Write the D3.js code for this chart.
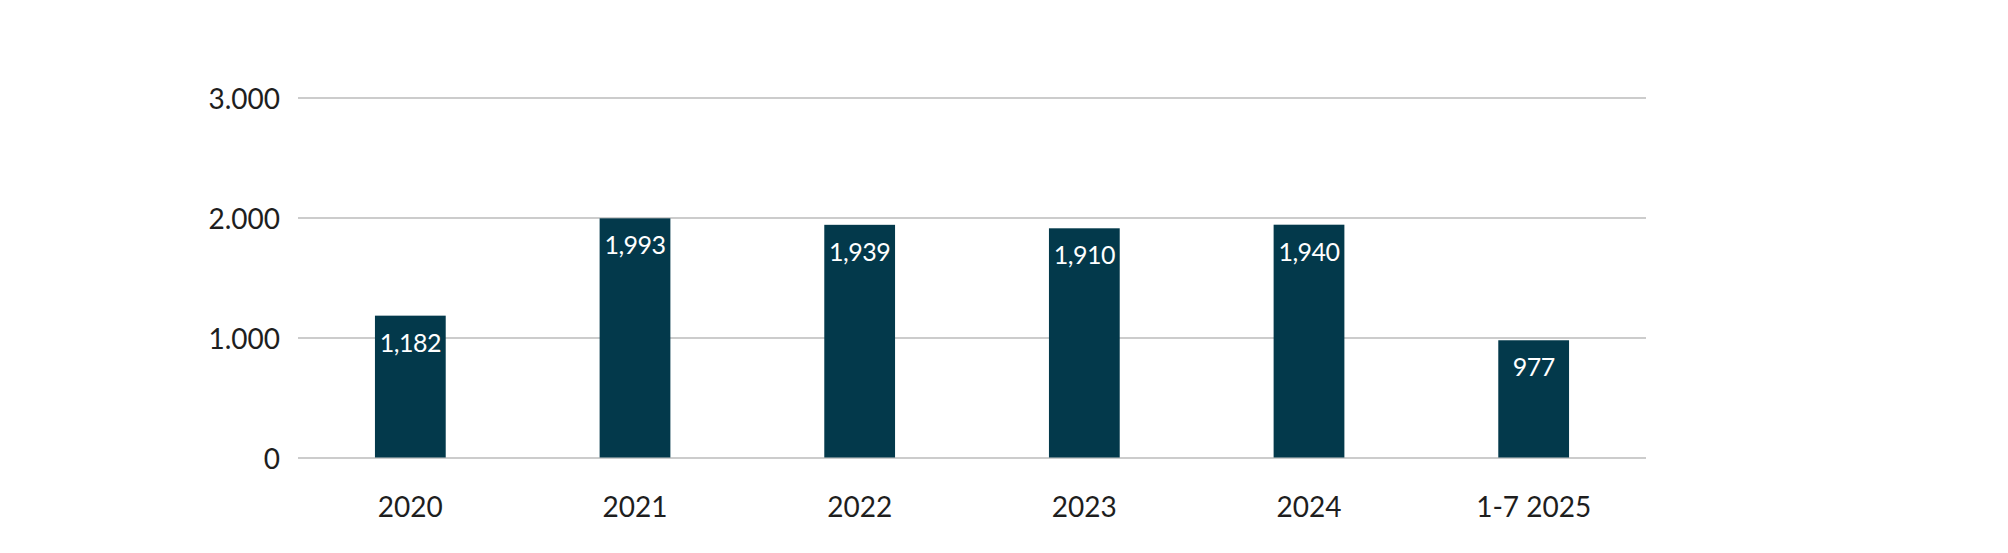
<!DOCTYPE html>
<html>
<head>
<meta charset="utf-8">
<script src="https://cdn.jsdelivr.net/npm/d3@7"></script>
<style>
  html, body { margin: 0; padding: 0; background: #ffffff; }
  svg { display: block; }
  .axis text { font-family: Lato, "Open Sans", sans-serif; fill: #1e1e1e; }
</style>
</head>
<body>
<svg id="chart" width="2008" height="553"></svg>
<script>
const categories = ["2020", "2021", "2022", "2023", "2024", "1-7 2025"];
const values = [1182, 1993, 1939, 1910, 1940, 977];
const yTicks = [0, 1000, 2000, 3000];
const yMax = 3000;

const svg = d3.select("#chart");
const margin = { left: 298, right: 2008 - 1646, top: 97.5, bottom: 553 - 457.5 };
const W = 2008 - margin.left - margin.right;
const H = 553 - margin.top - margin.bottom;

const g = svg.append("g").attr("transform", `translate(${margin.left},${margin.top})`);

const x = d3.scaleBand().domain(categories).range([0, W])
  .paddingInner(0.685).paddingOuter(0.685 / 2);
const y = d3.scaleLinear().domain([0, yMax]).range([H, 0]);

const euro = d3.formatLocale({ decimal: ",", thousands: ".", grouping: [3], currency: ["", ""] });
const yFmt = euro.format(",");
const labelFmt = d3.format(",");

// y axis with gridlines
const yAxis = g.append("g").attr("class", "axis")
  .call(d3.axisLeft(y).tickValues(yTicks).tickFormat(yFmt).tickSize(-W).tickPadding(18));
yAxis.select(".domain").remove();
yAxis.selectAll(".tick line").attr("stroke", "#cccccc").attr("stroke-width", 2);
yAxis.selectAll(".tick text").attr("font-size", 28).attr("dy", "0.38em");

// bars
g.selectAll("rect.bar").data(values).join("rect")
  .attr("class", "bar")
  .attr("x", (d, i) => x(categories[i]))
  .attr("width", x.bandwidth())
  .attr("y", d => y(d))
  .attr("height", d => H - y(d))
  .attr("fill", "#03394b");

// value labels
g.selectAll("text.val").data(values).join("text")
  .attr("class", "val")
  .attr("x", (d, i) => x(categories[i]) + x.bandwidth() / 2)
  .attr("y", d => y(d) + 36)
  .attr("text-anchor", "middle")
  .attr("font-family", "Lato, 'Open Sans', sans-serif")
  .attr("font-size", 25)
  .attr("letter-spacing", -0.5)
  .attr("fill", "#ffffff")
  .text(d => labelFmt(d));

// x axis
const xAxis = g.append("g").attr("class", "axis")
  .attr("transform", `translate(0,${H})`)
  .call(d3.axisBottom(x).tickSize(0).tickPadding(40));
xAxis.select(".domain").remove();
xAxis.selectAll(".tick text").attr("font-size", 28);
</script>
</body>
</html>
